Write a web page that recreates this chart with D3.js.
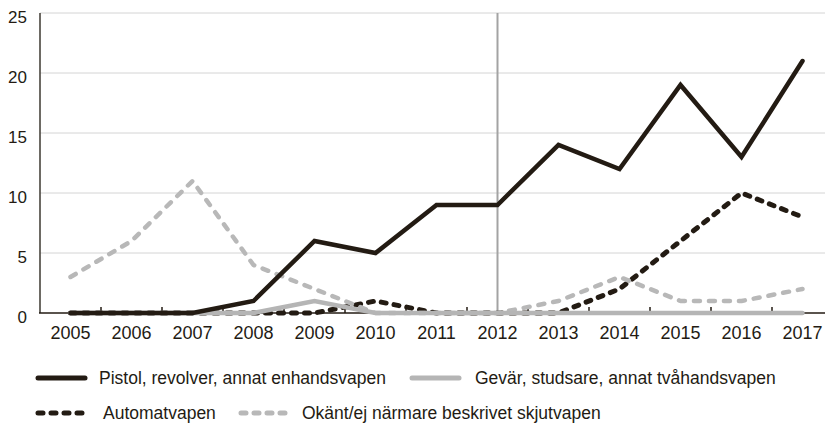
<!DOCTYPE html>
<html>
<head>
<meta charset="utf-8">
<script src="https://cdn.jsdelivr.net/npm/d3@7"></script>
<style>
  body { margin: 0; background: #fff; }
  text { font-family: "Liberation Sans", Arial, sans-serif; fill: #231b13; }
</style>
</head>
<body>
<div id="vis"></div>
<script>
const years = ["2005","2006","2007","2008","2009","2010","2011","2012","2013","2014","2015","2016","2017"];
const pistol = [0, 0, 0, 1, 6, 5, 9, 9, 14, 12, 19, 13, 21];
const gevar = [0, 0, 0, 0, 1, 0, 0, 0, 0, 0, 0, 0, 0];
const automat = [0, 0, 0, 0, 0, 1, 0, 0, 0, 2, 6, 10, 8];
const okant = [3, 6, 11, 4, 2, 0, 0, 0, 1, 3, 1, 1, 2];
const yTicks = [0, 5, 10, 15, 20, 25];
const markerYear = "2012";

const seriesNames = [
  "Pistol, revolver, annat enhandsvapen",
  "Gevär, studsare, annat tvåhandsvapen",
  "Automatvapen",
  "Okänt/ej närmare beskrivet skjutvapen"
];

const W = 825, H = 426;
const svg = d3.select("#vis").append("svg").attr("width", W).attr("height", H);

const x = d3.scaleBand().domain(years).range([40, 40 + 13 * 61]).padding(0);
const cx = d => x(d) + x.bandwidth() / 2;
const y = d3.scaleLinear().domain([0, 25]).range([313, 13]);

// gridlines
svg.append("g").selectAll("line")
  .data(yTicks.filter(t => t > 0))
  .join("line")
  .attr("x1", 40).attr("x2", W)
  .attr("y1", d => y(d)).attr("y2", d => y(d))
  .attr("stroke", "#d4d4d4").attr("stroke-width", 1);

// y labels
svg.append("g").selectAll("text")
  .data(yTicks)
  .join("text")
  .attr("x", 27).attr("y", d => y(d) + 10)
  .attr("text-anchor", "end")
  .attr("font-size", 17)
  .text(d => d);

// axes lines
svg.append("line").attr("x1", 40).attr("x2", 40).attr("y1", 13).attr("y2", 313)
  .attr("stroke", "#3d3830").attr("stroke-width", 1.5);
svg.append("line").attr("x1", 39).attr("x2", W).attr("y1", 313).attr("y2", 313)
  .attr("stroke", "#231b13").attr("stroke-width", 1.5);

// tick marks at band edges
svg.append("g").selectAll("line")
  .data(years.slice(1))
  .join("line")
  .attr("x1", d => x(d)).attr("x2", d => x(d))
  .attr("y1", 313).attr("y2", 307)
  .attr("stroke", "#231b13").attr("stroke-width", 1.5);

// x labels
svg.append("g")
  .attr("transform", "translate(0,313)")
  .call(d3.axisBottom(x).tickSize(0).tickPadding(13))
  .call(g => g.select(".domain").remove())
  .call(g => g.selectAll("text").attr("font-size", 18).attr("fill", "#231b13")
    .style("font-family", "'Liberation Sans', Arial, sans-serif"));

// vertical marker
svg.append("line")
  .attr("x1", cx(markerYear)).attr("x2", cx(markerYear))
  .attr("y1", 13).attr("y2", 313)
  .attr("stroke", "#a3a3a3").attr("stroke-width", 2);

const line = d3.line().x((d, i) => cx(years[i])).y(d => y(d));

const styles = [
  { data: pistol, color: "#231b13", width: 4.5, dash: null },
  { data: gevar, color: "#b5b5b5", width: 4.5, dash: null },
  { data: automat, color: "#231b13", width: 5, dash: "5,8" },
  { data: okant, color: "#b8b8b8", width: 4.5, dash: "6,9" }
];

const drawOrder = [2, 3, 1, 0];
drawOrder.forEach(i => {
  const s = styles[i];
  svg.append("path")
    .datum(s.data)
    .attr("fill", "none")
    .attr("stroke", s.color)
    .attr("stroke-width", s.width)
    .attr("stroke-linecap", "round")
    .attr("stroke-linejoin", s.dash ? "round" : "miter")
    .attr("stroke-dasharray", s.dash)
    .attr("d", line);
});

// legend
const legendItems = [
  { i: 0, sx: 36, tx: 99, ty: 378 },
  { i: 1, sx: 410, tx: 475, ty: 378 },
  { i: 2, sx: 36, tx: 103, ty: 413 },
  { i: 3, sx: 239, tx: 302, ty: 413 }
];
legendItems.forEach(l => {
  const s = styles[l.i];
  svg.append("line")
    .attr("x1", l.sx + 2).attr("x2", l.sx + 49)
    .attr("y1", l.ty).attr("y2", l.ty)
    .attr("stroke", s.color)
    .attr("stroke-width", 5)
    .attr("stroke-linecap", "round")
    .attr("stroke-dasharray", s.dash ? "5,8" : null);
  svg.append("text")
    .attr("x", l.tx).attr("y", l.ty + 6)
    .attr("font-size", 17.5)
    .text(seriesNames[l.i]);
});
</script>
</body>
</html>
